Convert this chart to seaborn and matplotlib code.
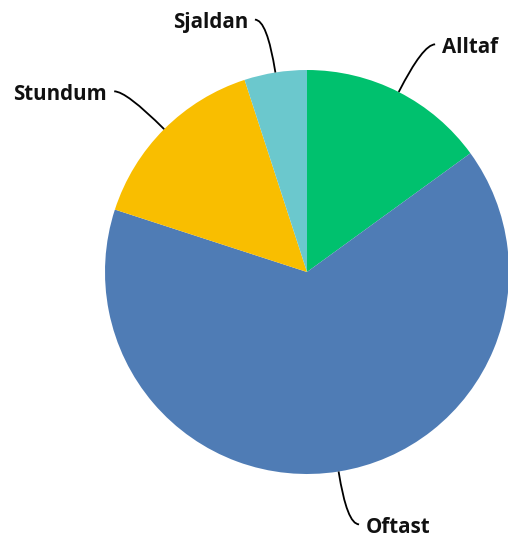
import numpy as np
import matplotlib
matplotlib.use("Agg")
import matplotlib.pyplot as plt
import seaborn as sns
from matplotlib.path import Path
from matplotlib.patches import PathPatch

sns.set_theme(style="white")
plt.rcParams['font.family'] = ['Open Sans', 'DejaVu Sans']

categories = ["Alltaf", "Oftast", "Stundum", "Sjaldan"]
values = [15, 65, 15, 5]
colors = ["#00C16E", "#4F7CB5", "#F9BE00", "#6BC8CD"]

W, H = 508, 541
fig = plt.figure(figsize=(W / 100, H / 100), dpi=100)
cx, cy, R = 307, 272, 202
ax = fig.add_axes([(cx - R) / W, (H - cy - R) / H, 2 * R / W, 2 * R / H])
ax.set_aspect("equal")
ax.axis("off")

wedges, _ = ax.pie(values, colors=colors, startangle=90, counterclock=False,
                   radius=1, center=(0, 0), wedgeprops=dict(linewidth=0),
                   frame=False)
ax.set_xlim(-1, 1)
ax.set_ylim(-1, 1)

for w, lab in zip(wedges, categories):
    th = np.deg2rad((w.theta1 + w.theta2) / 2)
    x0, y0 = np.cos(th), np.sin(th)
    r1 = 1.265
    x1, y1 = r1 * x0, r1 * y0
    s = 1 if x0 >= 0 else -1
    x2, y2 = x1 + s * 0.06, y1
    path = Path([(x0, y0), (x1, y1), (x2, y2)],
                [Path.MOVETO, Path.CURVE3, Path.CURVE3])
    ax.add_patch(PathPatch(path, facecolor="none", edgecolor="black",
                           lw=1.3, clip_on=False))
    ax.text(x2 + s * 0.035, y2 - 0.015, lab, ha="left" if s > 0 else "right",
            va="center", fontsize=14.8, fontweight="bold", color="#111111",
            clip_on=False)

fig.savefig("out.png", dpi=100)
